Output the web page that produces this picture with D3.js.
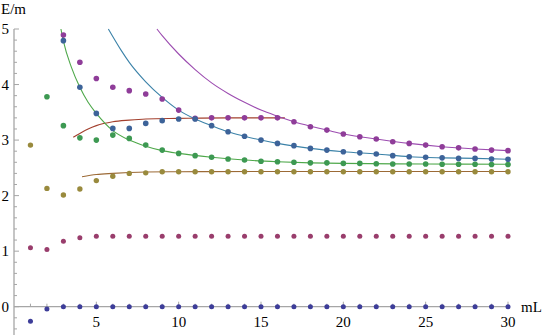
<!DOCTYPE html>
<html><head><meta charset="utf-8">
<script src="https://cdn.jsdelivr.net/npm/d3@7"></script>
<style>html,body{margin:0;padding:0;background:#fff}svg{display:block}</style>
</head><body>
<svg id="c" width="545" height="335"></svg>
<script>
// ---- data ----
const mL = d3.range(1, 31);
const navyE   = [-0.26,-0.04,0,0,0,0,0,0,0,0,0,0,0,0,0,0,0,0,0,0,0,0,0,0,0,0,0,0,0,0];
const pinkE   = [1.06,1.03,1.18,1.24,1.27,1.27,1.27,1.27,1.27,1.27,1.27,1.27,1.27,1.27,1.27,1.27,1.27,1.27,1.27,1.27,1.27,1.27,1.27,1.27,1.27,1.27,1.27,1.27,1.27,1.27];
const oliveE  = [2.91,2.13,2.01,2.12,2.27,2.35,2.40,2.41,2.43,2.43,2.43,2.43,2.43,2.43,2.43,2.43,2.43,2.43,2.43,2.43,2.43,2.43,2.43,2.43,2.43,2.43,2.43,2.43,2.43,2.43];
const greenE  = [null,3.78,3.26,3.04,3.00,3.09,3.03,2.91,2.82,2.76,2.72,2.69,2.66,2.64,2.62,2.61,2.60,2.59,2.59,2.58,2.58,2.575,2.57,2.57,2.57,2.565,2.565,2.565,2.56,2.56];
const blueE   = [null,null,4.79,3.95,3.48,3.21,3.21,3.30,3.35,3.38,3.38,3.26,3.15,3.07,3.00,2.94,2.90,2.85,2.82,2.79,2.77,2.75,2.72,2.70,2.69,2.68,2.67,2.67,2.66,2.655];
const purpleE = [null,null,4.89,4.40,4.11,3.95,3.89,3.83,3.74,3.54,3.39,3.40,3.40,3.40,3.40,3.40,3.33,3.24,3.18,3.11,3.06,3.02,2.97,2.94,2.91,2.88,2.86,2.84,2.82,2.81];

// fitted curves: [mL, E]
const greenFit  = [[2.85,5.0],[3,4.78],[3.5,4.30],[4,3.95],[4.5,3.68],[5,3.48],[6,3.17],[7,3.00],[8,2.89],[9,2.81],[10,2.76],[12,2.69],[14,2.64],[16,2.61],[18,2.59],[20,2.58],[25,2.57],[30,2.565]];
const blueFit   = [[5.73,5.0],[6.5,4.62],[7,4.40],[8,4.05],[9,3.77],[10,3.54],[11,3.38],[12,3.26],[13,3.15],[14,3.07],[15,3.00],[16,2.94],[18,2.85],[20,2.79],[22,2.75],[24,2.70],[26,2.68],[28,2.67],[30,2.655]];
const purpleFit = [[8.68,5.0],[9,4.88],[10,4.55],[11,4.27],[12,4.03],[13,3.84],[14,3.68],[15,3.54],[16,3.43],[17,3.33],[18,3.25],[19,3.18],[20,3.11],[22,3.02],[24,2.94],[26,2.88],[28,2.84],[30,2.81]];
const redFit    = [[3.6,3.05],[4,3.12],[4.5,3.20],[5,3.26],[6,3.33],[7,3.36],[8,3.38],[10,3.39],[13,3.40],[16.45,3.40]];
const brownFit  = [[4.13,2.34],[5,2.38],[6,2.40],[7,2.415],[8,2.425],[10,2.43],[15,2.435],[30,2.435]];

const xMajor = [5,10,15,20,25,30];
const yMajor = [0,1,2,3,4,5];

// ---- drawing ----
const svg = d3.select("#c");
const x = d3.scaleLinear().domain([0,30]).range([14,508]);
const y = d3.scaleLinear().domain([0,5]).range([306.7,29]);
const axisCol = "#a6a6a6";
const FONT = '"Liberation Serif"';
const txt = sel => sel.style("font-family",FONT).style("font-size","15px").attr("fill","#000");

// y axis
const yA = svg.append("g");
yA.append("line").attr("x1",x(0)).attr("x2",x(0)).attr("y1",y(5)).attr("y2",335)
  .attr("stroke",axisCol).attr("stroke-width",1.3);
const yMinor = d3.range(-0.4, 5.001, 0.2).map(v=>+v.toFixed(1)).filter(v=>!yMajor.includes(v));
yA.selectAll("line.mi").data(yMinor).join("line").attr("class","mi")
  .attr("x1",x(0)).attr("x2",x(0)+3).attr("y1",d=>y(d)).attr("y2",d=>y(d))
  .attr("stroke",axisCol).attr("stroke-width",1);
yA.selectAll("line.ma").data(yMajor).join("line").attr("class","ma")
  .attr("x1",x(0)).attr("x2",x(0)+5).attr("y1",d=>y(d)).attr("y2",d=>y(d))
  .attr("stroke",axisCol).attr("stroke-width",1);
yA.selectAll("text").data(yMajor).join("text")
  .attr("x",9).attr("y",d=>y(d)+5).attr("text-anchor","end").call(txt).text(d=>d);

// x axis
const xA = svg.append("g");
xA.append("line").attr("x1",x(0)).attr("x2",x(30)).attr("y1",y(0)).attr("y2",y(0))
  .attr("stroke",axisCol).attr("stroke-width",1.3);
const xMinor = d3.range(1,30).filter(v=>!xMajor.includes(v));
xA.selectAll("line.mi").data(xMinor).join("line").attr("class","mi")
  .attr("x1",d=>x(d)).attr("x2",d=>x(d)).attr("y1",y(0)).attr("y2",y(0)-3)
  .attr("stroke",axisCol).attr("stroke-width",1);
xA.selectAll("line.ma").data(xMajor).join("line").attr("class","ma")
  .attr("x1",d=>x(d)).attr("x2",d=>x(d)).attr("y1",y(0)).attr("y2",y(0)-5)
  .attr("stroke",axisCol).attr("stroke-width",1);
xA.selectAll("text").data(xMajor).join("text")
  .attr("x",d=>x(d)).attr("y",327).attr("text-anchor","middle").call(txt).text(d=>d);

svg.append("text").attr("x",1).attr("y",14).call(txt).text("E/m");
svg.append("text").attr("x",521).attr("y",312).call(txt).text("mL");

// fit lines
const line = d3.line().x(d=>x(d[0])).y(d=>y(d[1])).curve(d3.curveMonotoneX);
const fits = [
  [redFit,"#a3402e"],[brownFit,"#9c6a36"],[greenFit,"#4ea84a"],[blueFit,"#3b82a8"],[purpleFit,"#9c4cb0"]
];
fits.forEach(([data,col])=>{
  svg.append("path").datum(data).attr("d",line).attr("fill","none")
    .attr("stroke",col).attr("stroke-width",1.1);
});

// dots
const series = [
  [navyE,"#3d3d99",2.5],[pinkE,"#993d6c",2.5],[oliveE,"#998a3d",2.7],
  [purpleE,"#8f3d99",2.8],[greenE,"#3d9952",2.8],[blueE,"#3d6399",2.8]
];
series.forEach(([vals,col,r])=>{
  const pts = mL.map((m,i)=>[m,vals[i]]).filter(d=>d[1]!==null);
  svg.append("g").selectAll("circle").data(pts).join("circle")
    .attr("cx",d=>x(d[0])).attr("cy",d=>y(d[1])).attr("r",r).attr("fill",col);
});
</script>
</body></html>
